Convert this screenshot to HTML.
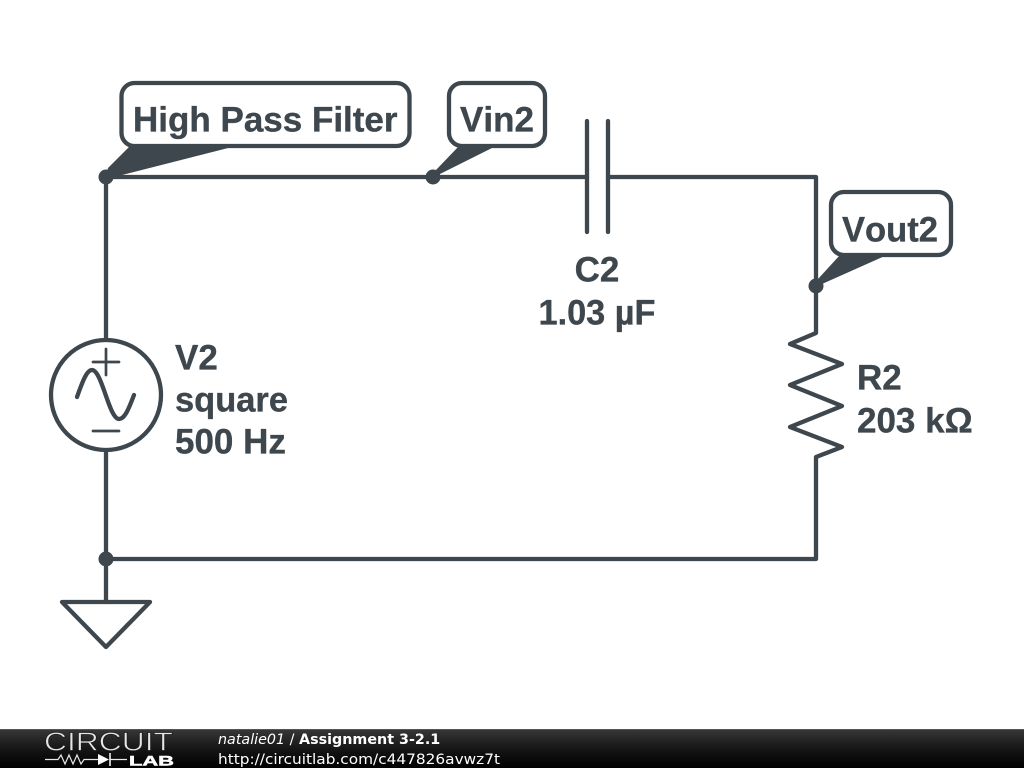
<!DOCTYPE html>
<html>
<head>
<meta charset="utf-8">
<style>
html,body{margin:0;padding:0;background:#fff;width:1024px;height:768px;overflow:hidden}
svg{display:block}
.t{font-family:"Liberation Sans",sans-serif;font-weight:bold;font-size:35px;fill:#3d474d;stroke:#3d474d;stroke-width:.35;font-kerning:none}
.w{fill:none;stroke:#3d474d;stroke-width:4.300;stroke-linecap:round;stroke-linejoin:round}
.f{font-family:"DejaVu Sans",sans-serif;fill:#fff}
</style>
</head>
<body>
<svg width="1024" height="768" viewBox="0 0 1024 768" xmlns="http://www.w3.org/2000/svg">
<defs>
<linearGradient id="g" x1="0" y1="0" x2="0" y2="1">
<stop offset="0" stop-color="#383838"/>
<stop offset=".5" stop-color="#161616"/>
<stop offset="1" stop-color="#000"/>
</linearGradient>
</defs>
<rect width="1024" height="768" fill="#fff"/>

<!-- wires -->
<path class="w" d="M106 177H587M608 177H816V333L790 344L842 364L790 385L842 406L790 427L842 447L816 457V559H106V177"/>
<path class="w" d="M106 559V602"/>
<path class="w" d="M587 121V232M608 121V232"/>
<path class="w" d="M62 602H150L106 647Z"/>

<!-- source -->
<circle cx="106" cy="395" r="55" fill="#fff" stroke="#3d474d" stroke-width="4.300"/>
<path class="w" style="stroke-width:2.700" d="M93 362H119M106 349V375M93 431H119"/>
<path class="w" d="M77 397C83 380 87 370 92 370C102 370 109 419 119 419C125 419 129 408 134 395"/>

<!-- junctions -->
<circle cx="106" cy="177" r="7.500" fill="#3d474d"/>
<circle cx="433" cy="177" r="7.500" fill="#3d474d"/>
<circle cx="816" cy="286" r="7.500" fill="#3d474d"/>
<circle cx="106" cy="559" r="7.500" fill="#3d474d"/>

<!-- labels -->
<path d="M130 146H236L118 176L106 177L108 168Z" fill="#3d474d"/>
<rect class="w" x="121.500" y="83" width="288" height="63" rx="13" style="fill:#fff"/>
<text class="t" x="133" y="131.500">High Pass Filter</text>

<path d="M459 146H496L440 174L433 177L436 170Z" fill="#3d474d"/>
<rect class="w" x="449" y="83" width="96" height="63" rx="13" style="fill:#fff"/>
<text class="t" x="460" y="131.500">Vin2</text>

<path d="M840 255H887L822 284L816 286L818 279Z" fill="#3d474d"/>
<rect class="w" x="831" y="192" width="120" height="63" rx="13" style="fill:#fff"/>
<text class="t" x="842" y="241.500" textLength="96" lengthAdjust="spacingAndGlyphs">Vout2</text>

<text class="t" x="597" y="281.500" text-anchor="middle">C2</text>
<text class="t" x="597" y="324.500" text-anchor="middle" textLength="117" lengthAdjust="spacingAndGlyphs">1.03 µF</text>

<text class="t" x="175" y="369.500">V2</text>
<text class="t" x="175" y="411.500" textLength="113" lengthAdjust="spacingAndGlyphs">square</text>
<text class="t" x="175" y="453.500">500 Hz</text>

<text class="t" x="857" y="389.500">R2</text>
<text class="t" x="857" y="432.500">203 kΩ</text>

<!-- footer -->
<rect x="0" y="729" width="1024" height="39" fill="url(#g)"/>
<rect x="0" y="729" width="1024" height="1" fill="#555"/>
<text x="44" y="750.500" font-family="Liberation Sans,sans-serif" font-size="25.500" fill="#e6e6e6" stroke="#1c1c1c" stroke-width=".7" paint-order="fill stroke" textLength="129" lengthAdjust="spacingAndGlyphs">CIRCUIT</text>
<path d="M45 759.500H58L61 755L65 764L69 755L73 764L77 755L81 764L84 759.500H98M110 759.500H127" fill="none" stroke="#e8e8e8" stroke-width="1.200"/>
<path d="M98 754L109 759.500L98 765Z" fill="#fff"/>
<path d="M110 753V766" stroke="#fff" stroke-width="1.500"/>
<text x="129" y="765.500" font-family="Liberation Sans,sans-serif" font-weight="bold" font-size="14" fill="#fff" stroke="#fff" stroke-width=".5" textLength="45" lengthAdjust="spacingAndGlyphs">LAB</text>
<text class="f" font-size="14.300" x="218" y="744"><tspan font-style="italic">natalie01</tspan> / <tspan font-weight="bold">Assignment 3-2.1</tspan></text>
<text class="f" font-size="14.500" x="218" y="764" textLength="282" lengthAdjust="spacingAndGlyphs">http://circuitlab.com/c447826avwz7t</text>
</svg>
</body>
</html>
